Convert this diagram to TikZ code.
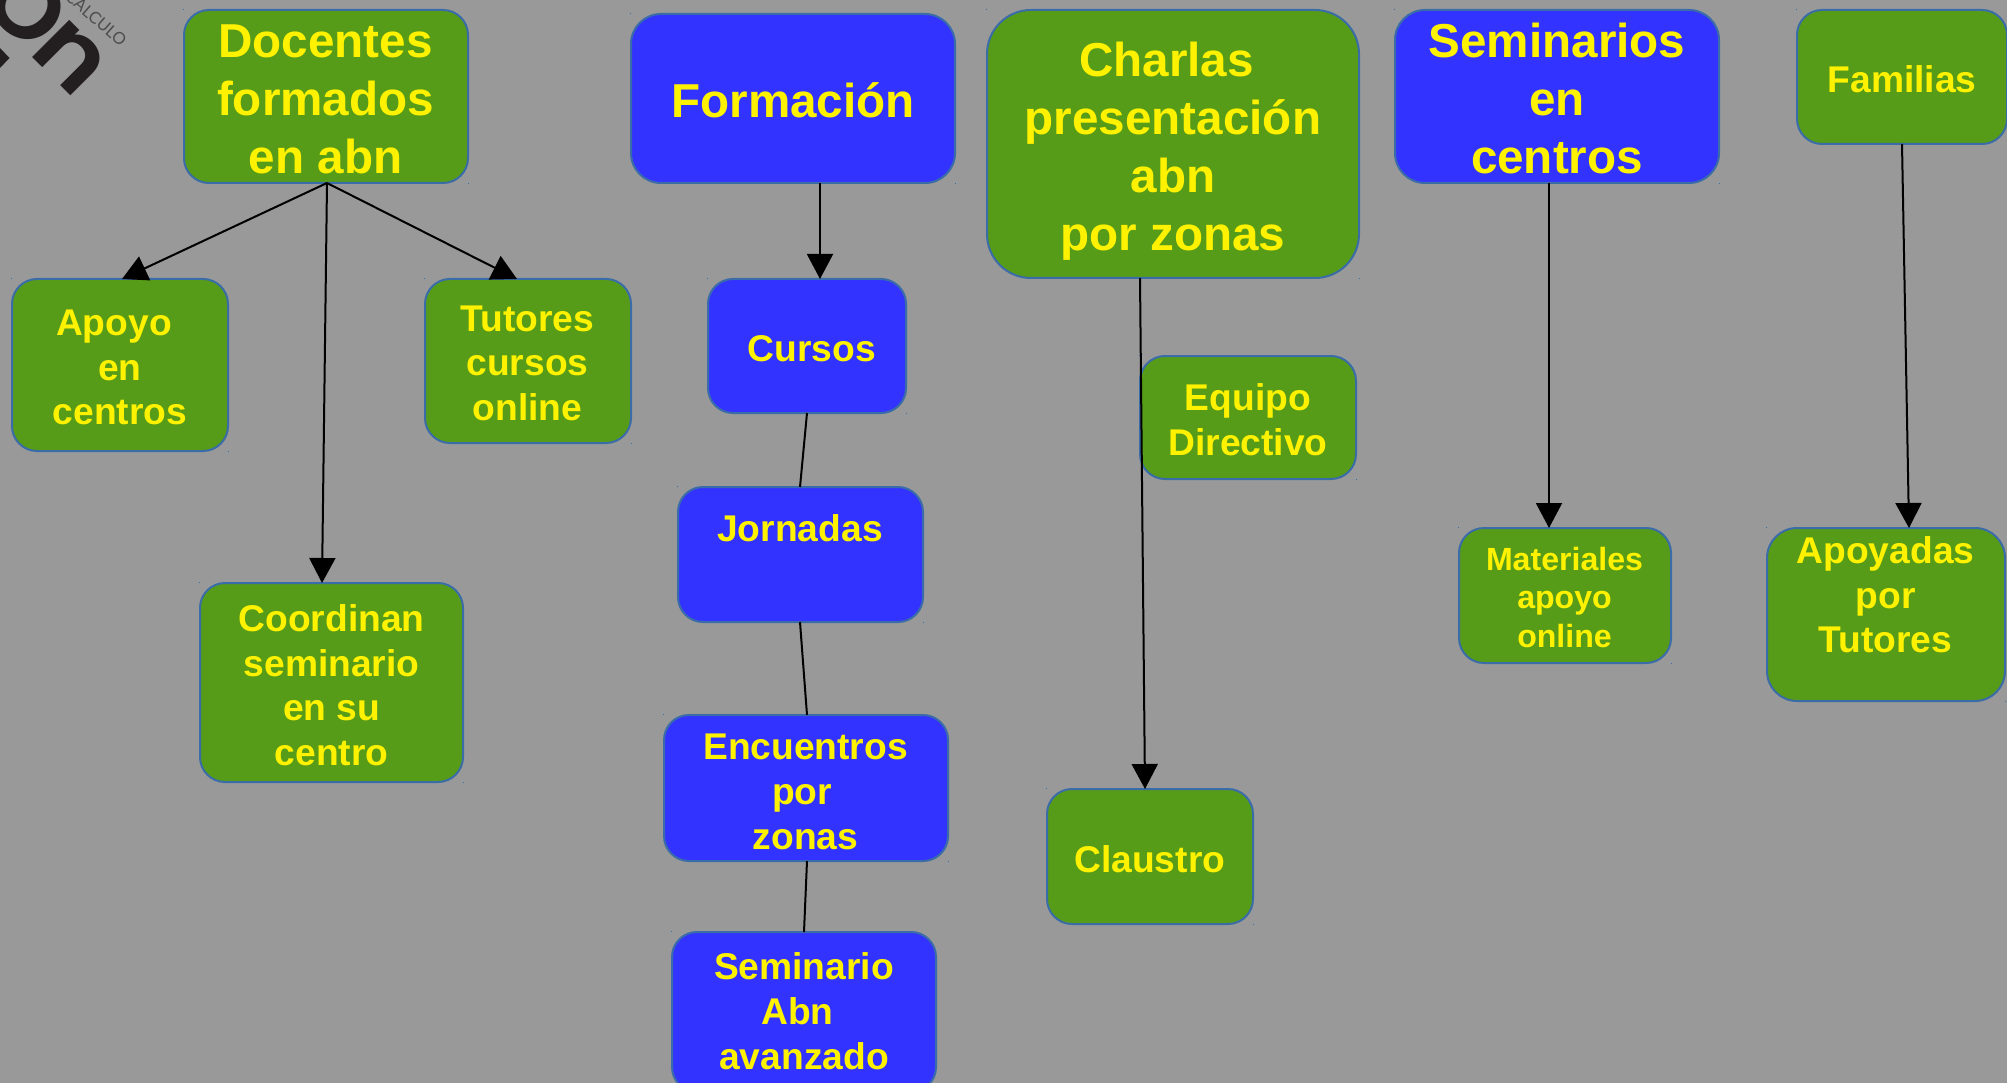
\documentclass[tikz,border=0pt]{standalone}
\usepackage{fontspec}
\setmainfont{Liberation Sans}
\newfontfamily\logofont{Poppins SemiBold}
\newfontfamily\logoring{Poppins Medium}
\newfontfamily\logosmall{Lato}
\usetikzlibrary{arrows.meta}
\definecolor{bggrey}{HTML}{999999}
\definecolor{boxgreen}{HTML}{569C18}
\definecolor{boxblue}{HTML}{3333FF}
\definecolor{boxedge}{HTML}{3A6CA8}
\definecolor{logoink}{HTML}{231F20}
\tikzset{
  panel/.style={draw=boxedge,line width=2pt,rectangle,inner sep=0pt,outer sep=0pt,rounded corners=25pt},
  gbox/.style={panel,fill=boxgreen},
  bbox/.style={panel,fill=boxblue},
  boxtext/.style={text=yellow,align=center,inner sep=0pt,outer sep=0pt},
  link/.style={draw=black,line width=2pt},
  arrowlink/.style={link,-{Triangle[length=25pt,width=26pt]}},
}
\newcommand{\bx}[6]{% name, style, x0,y0,x1,y1
  \pgfmathsetmacro{\bxw}{#5-#3}\pgfmathsetmacro{\bxh}{#6-#4}
  \pgfmathsetmacro{\bxx}{(#3+#5)/2}\pgfmathsetmacro{\bxy}{(#4+#6)/2}
  \node[#2,minimum width=\bxw pt,minimum height=\bxh pt] (#1) at (\bxx,\bxy) {};
  \fill[boxedge] (#3-1,#4-1) rectangle (#3,#4);
  \fill[boxedge] (#5,#6) rectangle (#5+1,#6+1);
}
\newcommand{\lb}[7]{% name, size, leading, cx, first baseline, lines, text
  \pgfmathsetmacro{\lby}{#5+#6*#3/2-0.7*#3}
  \node[boxtext,font=\fontsize{#2}{#3}\selectfont\bfseries] (#1) at (#4,\lby) {#7};
}
\newcommand{\st}{\strut}
\newcommand{\lft}[2]{\hbox{#2\kern#1pt}}
\begin{document}
\begin{tikzpicture}[x=1pt,y=-1pt]
\clip (0,0) rectangle (2007,1083);
\fill[bggrey] (0,0) rectangle (2007,1083);
% logo
\node[rotate=-45,anchor=base east,inner sep=0pt,text=logoink,font=\fontsize{95}{95}\selectfont] (logo) at (76,100.5) {\scalebox{1.26}[1.22]{\logoring o}\kern-5pt\scalebox{1.08}[1]{\logofont n}};
\fill[logoink] (0,48) -- (9.5,58) -- (0,68) -- cycle;
\node[rotate=-41,anchor=base east,inner sep=0pt,text=logoink!80,font=\fontsize{16.5}{16.5}\selectfont\logosmall] (logosub) at (120.5,47.5) {CÁLCULO};
% boxes
\bx{doc}{gbox}{184}{10}{468}{183}
\bx{apo}{gbox}{12}{279}{228}{451}
\bx{tut}{gbox}{425}{279}{631}{443}
\bx{coo}{gbox}{200}{583}{463}{782}
\bx{for}{bbox,rounded corners=30pt}{631}{14}{955}{183}
\bx{cur}{bbox}{708}{279}{906}{413}
\bx{jor}{bbox}{678}{487}{923}{622}
\bx{enc}{bbox}{664}{715}{948}{861}
\bx{sem}{bbox}{672}{932}{936}{1092}
\bx{cha}{gbox,rounded corners=44pt}{987}{10}{1359}{278}
\bx{equ}{gbox}{1140}{356}{1356}{479}
\bx{cla}{gbox}{1047}{789}{1253}{924}
\bx{sce}{bbox,rounded corners=30pt}{1395}{10}{1719}{183}
\bx{mat}{gbox}{1459}{528}{1671}{663}
\bx{fam}{gbox}{1797}{10}{2007}{144}
\bx{apy}{gbox,rounded corners=30pt}{1767}{528}{2005}{701}
% connectors
\draw[arrowlink] ([xshift=1pt]doc.south) -- ([xshift=2pt]apo.north);
\draw[arrowlink] ([xshift=1pt]doc.south) -- ([xshift=-11pt]tut.north);
\draw[arrowlink] ([xshift=1pt]doc.south) -- ([xshift=-9.5pt]coo.north);
\draw[arrowlink] ([xshift=27pt]for.south) -- ([xshift=13pt]cur.north);
\draw[link] (cur.south) -- ([xshift=-.5pt]jor.north);
\draw[link] ([xshift=-.5pt]jor.south) -- ([xshift=1pt]enc.north);
\draw[link] ([xshift=1pt]enc.south) -- (sem.north);
\draw[arrowlink] ([xshift=-33pt]cha.south) -- ([xshift=-5pt]cla.north);
\draw[arrowlink] ([xshift=-8pt]sce.south) -- ([xshift=-16pt]mat.north);
\draw[arrowlink] ([xshift=0pt]fam.south) -- ([xshift=23pt]apy.north);
% texts
\lb{docT}{47.6}{57.6}{325.5}{58}{3}{\st Docentes\\\st formados\\\st en abn}
\lb{apoT}{37.2}{44.7}{120}{335.5}{3}{\st\lft{12}{Apoyo}\\\st en\\\st centros}
\lb{tutT}{37.2}{44.9}{527.5}{331}{3}{\st Tutores\\\st cursos\\\st online}
\lb{cooT}{37.2}{44.8}{331.6}{631.2}{4}{\st Coordinan\\\st seminario\\\st en su\\\st centro}
\lb{forT}{47.6}{57.4}{793}{118}{1}{\st Formación}
\lb{curT}{37.2}{44.8}{812}{361.7}{1}{\st Cursos}
\lb{jorT}{37.2}{44.8}{800}{541}{1}{\st Jornadas}
\lb{encT}{37.2}{45}{805.5}{759.2}{3}{\st Encuentros\\\st\lft{7}{por}\\\st zonas}
\lb{semT}{37.2}{45.3}{804}{979}{3}{\st Seminario\\\st\lft{13}{Abn}\\\st avanzado}
\lb{chaT}{47.6}{57.7}{1173}{77}{4}{\st\lft{13}{Charlas}\\\st presentación\\\st abn\\\st por zonas}
\lb{equT}{37.2}{45}{1248}{410}{2}{\st Equipo\\\st Directivo}
\lb{claT}{37.2}{44.8}{1149.8}{872.5}{1}{\st Claustro}
\lb{sceT}{47.6}{57.7}{1557}{57.8}{3}{\st Seminarios\\\st en\\\st centros}
\lb{matT}{32.1}{38.7}{1564.5}{570}{3}{\st Materiales\\\st apoyo\\\st online}
\lb{famT}{37.2}{44.8}{1902}{92.8}{1}{\st Familias}
\lb{apyT}{37.2}{44.5}{1885.5}{563.5}{3}{\st Apoyadas\\\st por\\\st Tutores}
\end{tikzpicture}
\end{document}
